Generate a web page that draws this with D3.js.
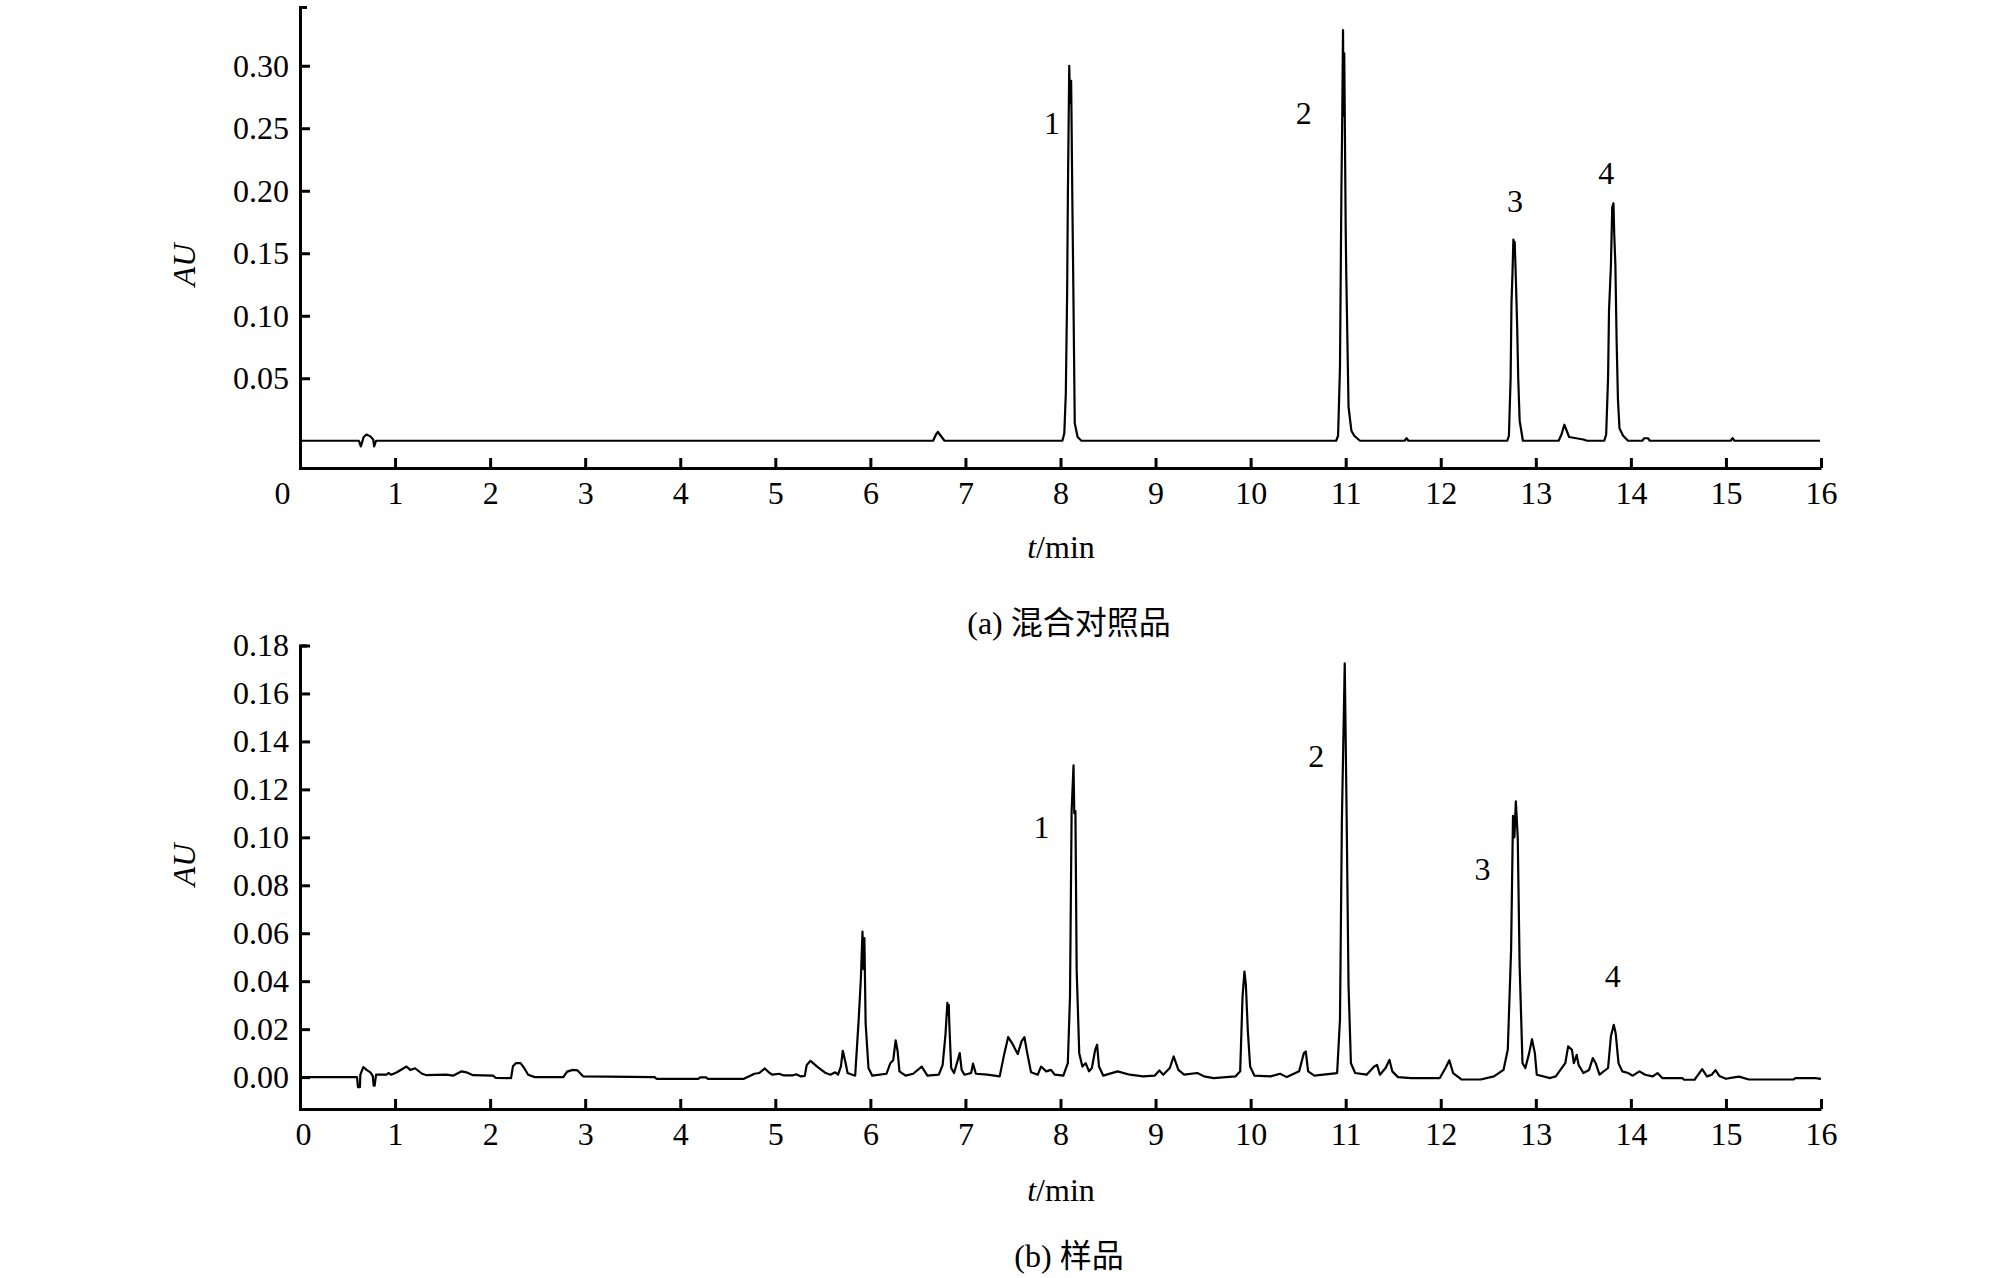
<!DOCTYPE html>
<html lang="zh">
<head>
    <meta charset="UTF-8">
    <title>混合对照品与样品色谱图</title>
    <script src="https://d3js.org/d3.v7.min.js"></script>
    <style>
        body {
            margin: 0;
            background: #fff;
        }

        svg text {
            font-family: "Liberation Serif", "Times New Roman", "Noto Sans CJK SC", serif;
            fill: #000;
        }

        .axis path,
        .axis line {
            stroke: #000;
            stroke-width: 3px;
        }

        .axis text {
            font-size: 32px;
        }

        .trace {
            fill: none;
            stroke: #000;
            stroke-width: 2.2px;
            stroke-linejoin: round;
        }

        .peak-label, .axis-title, .panel-title {
            font-size: 32px;
        }
    </style>
</head>
<body>
    <svg id="chart" width="2008" height="1278"></svg>

    <script>
        // x 轴刻度 (min)
        const timeTicks = d3.range(0, 17);
        // y 轴刻度
        const ticksA = [0.05, 0.10, 0.15, 0.20, 0.25, 0.30];
        const ticksB = [0, 0.02, 0.04, 0.06, 0.08, 0.10, 0.12, 0.14, 0.16, 0.18];

        // (a) 混合对照品 [t/min, AU]
        const traceA = [
            [0, 0], [0.62, 0], [0.64, -0.0045], [0.67, 0.003], [0.70, 0.005], [0.74, 0.0035],
            [0.77, 0.001], [0.78, -0.0045], [0.80, 0],
            [6.66, 0], [6.69, 0.005], [6.71, 0.007], [6.74, 0.004], [6.78, 0],
            [8.02, 0], [8.04, 0.006], [8.056, 0.038], [8.07, 0.12], [8.078, 0.199], [8.092, 0.30],
            [8.10, 0.27], [8.112, 0.288], [8.125, 0.19], [8.135, 0.123], [8.15, 0.014],
            [8.18, 0.003], [8.22, 0],
            [10.90, 0], [10.92, 0.004], [10.94, 0.059], [10.955, 0.2], [10.962, 0.247],
            [10.972, 0.3285], [10.978, 0.26], [10.985, 0.31], [11.0, 0.17], [11.006, 0.134],
            [11.03, 0.027], [11.06, 0.008], [11.09, 0.004], [11.15, 0],
            [11.62, 0], [11.64, 0.002], [11.66, 0],
            [12.70, 0], [12.717, 0.004], [12.735, 0.05], [12.744, 0.110], [12.755, 0.135],
            [12.764, 0.161], [12.772, 0.158], [12.778, 0.159], [12.79, 0.13], [12.804, 0.091],
            [12.815, 0.05], [12.83, 0.016], [12.864, 0],
            [13.24, 0], [13.27, 0.005], [13.30, 0.0128], [13.32, 0.009], [13.35, 0.003],
            [13.50, 0.001], [13.54, 0],
            [13.72, 0], [13.74, 0.005], [13.76, 0.05], [13.77, 0.104], [13.79, 0.14],
            [13.804, 0.187], [13.817, 0.190], [13.825, 0.165], [13.837, 0.141], [13.85, 0.08],
            [13.864, 0.033], [13.88, 0.01], [13.918, 0.004], [13.97, 0],
            [14.12, 0], [14.14, 0.002], [14.18, 0.002], [14.2, 0],
            [15.05, 0], [15.07, 0.002], [15.09, 0], [15.99, 0]
        ];

        // (b) 样品 [t/min, AU]
        const traceB = [
            [0, 0], [0.60, 0], [0.61, -0.0042], [0.63, -0.0042], [0.635, 0.001], [0.666, 0.0042],
            [0.70, 0.003], [0.74, 0.002], [0.765, 0.0005], [0.775, -0.0036], [0.785, -0.0036],
            [0.80, 0.001], [0.82, 0.001], [0.91, 0.001], [0.93, 0.0017], [0.96, 0.001],
            [1.02, 0.002], [1.12, 0.0044], [1.16, 0.003], [1.21, 0.0037], [1.28, 0.0015],
            [1.33, 0.0008], [1.54, 0.001], [1.61, 0.0006], [1.70, 0.0024], [1.75, 0.002],
            [1.82, 0.0008], [2.03, 0.0006], [2.06, -0.0003], [2.22, -0.0004], [2.24, 0.0045],
            [2.27, 0.0058], [2.32, 0.0058], [2.36, 0.0037], [2.40, 0.001], [2.47, 0],
            [2.77, 0], [2.81, 0.0023], [2.87, 0.003], [2.92, 0.0028], [2.98, 0.0003],
            [3.73, 0], [3.75, -0.0007], [4.19, -0.0007], [4.21, -0.0001], [4.27, -0.0001],
            [4.29, -0.0007], [4.67, -0.0007], [4.78, 0.0014], [4.83, 0.0017], [4.89, 0.0036],
            [4.94, 0.0017], [4.97, 0.001], [5.04, 0.0014], [5.09, 0.0007], [5.18, 0.0007],
            [5.22, 0.0012], [5.27, 0.0003], [5.31, 0.0005], [5.33, 0.005], [5.37, 0.0068],
            [5.44, 0.0044], [5.53, 0.0017], [5.58, 0.001], [5.63, 0.002], [5.66, 0.001],
            [5.69, 0.0045], [5.71, 0.011], [5.74, 0.0058], [5.76, 0.0017], [5.84, 0.0006],
            [5.877, 0.024], [5.90, 0.041], [5.917, 0.0607], [5.927, 0.045], [5.937, 0.058],
            [5.95, 0.0225], [5.98, 0.0038], [6.02, 0.0006], [6.17, 0.0014], [6.21, 0.0058],
            [6.24, 0.007], [6.266, 0.0153], [6.286, 0.011], [6.306, 0.0024], [6.37, 0.0006],
            [6.45, 0.0014], [6.54, 0.0044], [6.60, 0.0006], [6.72, 0.001], [6.76, 0.005],
            [6.79, 0.0177], [6.81, 0.031], [6.818, 0.026], [6.825, 0.03], [6.83, 0.0225],
            [6.85, 0.0038], [6.88, 0.0017], [6.91, 0.0058], [6.94, 0.010], [6.96, 0.003],
            [6.99, 0.001], [7.06, 0.0017], [7.08, 0.0056], [7.11, 0.0014], [7.23, 0.001],
            [7.36, 0.0003], [7.41, 0.010], [7.45, 0.0167], [7.49, 0.0142], [7.55, 0.0096],
            [7.59, 0.0149], [7.62, 0.0167], [7.65, 0.010], [7.69, 0.002], [7.76, 0.001],
            [7.795, 0.0044], [7.85, 0.0024], [7.90, 0.003], [7.94, 0.001], [8.03, 0.0006],
            [8.077, 0.0058], [8.10, 0.0336], [8.117, 0.111], [8.137, 0.130], [8.145, 0.11],
            [8.157, 0.111], [8.17, 0.0448], [8.197, 0.010], [8.23, 0.0044], [8.265, 0.0058],
            [8.30, 0.0024], [8.33, 0.0038], [8.365, 0.0114], [8.385, 0.0135], [8.405, 0.0044],
            [8.45, 0.0006], [8.60, 0.0024], [8.73, 0.001], [8.87, 0.0003], [8.99, 0.0006],
            [9.04, 0.0028], [9.08, 0.001], [9.15, 0.0038], [9.19, 0.0086], [9.24, 0.003],
            [9.30, 0.001], [9.44, 0.0017], [9.51, 0.0003], [9.61, -0.0004], [9.84, 0.0003],
            [9.89, 0.0024], [9.915, 0.0336], [9.935, 0.044], [9.95, 0.0385], [9.97, 0.0197],
            [9.995, 0.0044], [10.04, 0.0006], [10.21, 0.0003], [10.31, 0.0014], [10.38, 0],
            [10.51, 0.0024], [10.56, 0.010], [10.58, 0.0107], [10.605, 0.0024], [10.67, 0.0006],
            [10.91, 0.0017], [10.94, 0.024], [10.96, 0.107], [10.99, 0.1726], [11.01, 0.109],
            [11.03, 0.038], [11.055, 0.0058], [11.10, 0.0017], [11.22, 0.001], [11.30, 0.0044],
            [11.33, 0.0051], [11.36, 0.001], [11.42, 0.0038], [11.46, 0.0072], [11.49, 0.0024],
            [11.55, 0], [11.69, -0.0004], [11.99, -0.0004], [12.05, 0.0038], [12.09, 0.007],
            [12.13, 0.0017], [12.22, -0.001], [12.42, -0.001], [12.56, 0.0003], [12.66, 0.003],
            [12.705, 0.0114], [12.74, 0.053], [12.76, 0.109], [12.775, 0.10], [12.79, 0.115],
            [12.81, 0.0997], [12.83, 0.046], [12.86, 0.0058], [12.89, 0.0038], [12.93, 0.010],
            [12.96, 0.0158], [12.99, 0.010], [13.01, 0.001], [13.15, -0.0004], [13.21, 0.0003],
            [13.31, 0.0058], [13.34, 0.0128], [13.38, 0.0114], [13.40, 0.0058], [13.43, 0.0093],
            [13.45, 0.0051], [13.50, 0.0017], [13.56, 0.003], [13.60, 0.0079], [13.63, 0.0058],
            [13.67, 0.001], [13.76, 0.0038], [13.79, 0.017], [13.82, 0.0218], [13.84, 0.0183],
            [13.87, 0.0058], [13.91, 0.0024], [13.97, 0.0017], [14.02, 0.0006], [14.09, 0.0024],
            [14.15, 0.001], [14.23, 0.0003], [14.28, 0.0017], [14.33, -0.0004], [14.54, -0.0004],
            [14.56, -0.0011], [14.67, -0.0011], [14.75, 0.0033], [14.80, 0.0003], [14.85, 0.001],
            [14.89, 0.0029], [14.93, 0.0005], [15.0, -0.0007], [15.10, 0], [15.14, 0.0002],
            [15.24, -0.001], [15.71, -0.001], [15.73, -0.0004], [15.94, -0.0004], [16.0, -0.0007]
        ];

        // 峰标号 [标号, t/min, AU]
        const peaksA = [["1", 7.91, 0.2546], ["2", 10.56, 0.2626], ["3", 12.78, 0.1918], ["4", 13.74, 0.2146]];
        const peaksB = [["1", 7.80, 0.1042], ["2", 10.69, 0.134], ["3", 12.44, 0.0869], ["4", 13.81, 0.042]];

        const titleA = "(a) 混合对照品";
        const titleB = "(b) 样品";

        // 布局
        const left = 300, right = 1821;
        const panels = [
            {
                trace: traceA, yTicks: ticksA, peaks: peaksA, title: titleA,
                yDomain: [-0.0218, 0.347], top: 7, bottom: 468, zeroDx: -18,
                auY: 265, tTitleY: 558, titleY: 634
            },
            {
                trace: traceB, yTicks: ticksB, peaks: peaksB, title: titleB,
                yDomain: [-0.0133, 0.18], top: 645.5, bottom: 1109, zeroDx: 3,
                auY: 865, tTitleY: 1201, titleY: 1267
            }
        ];

        const svg = d3.select("#chart");
        const x = d3.scaleLinear().domain([0, 16]).range([left, right]);

        panels.forEach(p => {
            const y = d3.scaleLinear().domain(p.yDomain).range([p.bottom, p.top]);
            const g = svg.append("g");

            // 坐标轴
            const xAxis = g.append("g")
                .attr("class", "axis")
                .attr("transform", `translate(0,${p.bottom})`)
                .call(d3.axisBottom(x).tickValues(timeTicks)
                    .tickSizeInner(-10).tickSizeOuter(0).tickPadding(13)
                    .tickFormat(d3.format("d")));
            xAxis.selectAll(".tick text").filter(d => d === 0).attr("dx", p.zeroDx);

            g.append("g")
                .attr("class", "axis")
                .attr("transform", `translate(${left},0)`)
                .call(d3.axisLeft(y).tickValues(p.yTicks)
                    .tickSizeInner(-10).tickSizeOuter(-7).tickPadding(11)
                    .tickFormat(d3.format(".2f")));

            // 色谱曲线
            g.append("path")
                .datum(p.trace)
                .attr("class", "trace")
                .attr("d", d3.line().x(d => x(d[0])).y(d => y(d[1])));

            // 峰标号
            g.selectAll(".peak-label")
                .data(p.peaks)
                .enter()
                .append("text")
                .attr("class", "peak-label")
                .attr("x", d => x(d[1]))
                .attr("y", d => y(d[2]))
                .attr("text-anchor", "middle")
                .attr("dominant-baseline", "central")
                .text(d => d[0]);

            // y 轴标题
            g.append("text")
                .attr("class", "axis-title")
                .attr("transform", `translate(195,${p.auY}) rotate(-90)`)
                .attr("text-anchor", "middle")
                .style("font-style", "italic")
                .text("AU");

            // x 轴标题
            const tt = g.append("text")
                .attr("class", "axis-title")
                .attr("x", 1061)
                .attr("y", p.tTitleY)
                .attr("text-anchor", "middle");
            tt.append("tspan").style("font-style", "italic").text("t");
            tt.append("tspan").text("/min");

            // 图题
            g.append("text")
                .attr("class", "panel-title")
                .attr("x", 1069)
                .attr("y", p.titleY)
                .attr("text-anchor", "middle")
                .text(p.title);
        });
    </script>
</body>
</html>
